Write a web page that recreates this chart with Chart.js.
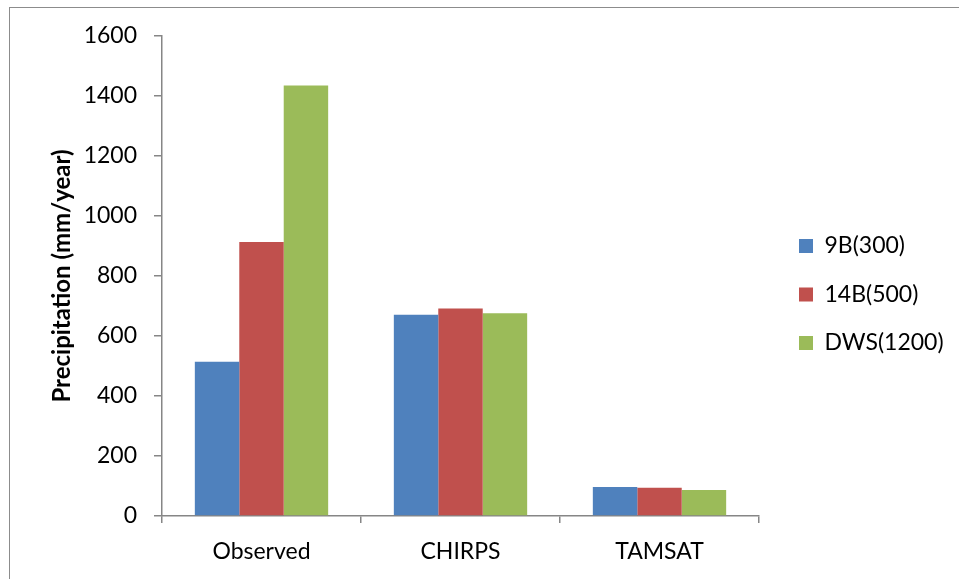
<!DOCTYPE html>
<html>
<head>
<meta charset="utf-8">
<title>Precipitation</title>
<script src="https://cdn.jsdelivr.net/npm/chart.js@4.4.0/dist/chart.umd.min.js"></script>
<style>
  body { margin: 0; background: #fff; }
  #wrap { position: relative; width: 959px; height: 579px; overflow: hidden; }
  #frame { position: absolute; left: 9px; top: 7px; width: 980px; height: 620px; border: 1px solid #8c8c8c; }
  canvas { position: absolute; left: 0; top: 0; }
</style>
</head>
<body>
<div id="wrap">
  <div id="frame"></div>
  <canvas id="precipChart" width="959" height="579"></canvas>
</div>
<script>
// station data, annual precipitation (mm/year)
const categories = ["Observed", "CHIRPS", "TAMSAT"];
const stationNames = ["9B(300)", "14B(500)", "DWS(1200)"];
const station9B = [514, 671, 97];
const station14B = [913, 692, 94];
const stationDWS = [1435, 676, 87];
const yTicks = [0, 200, 400, 600, 800, 1000, 1200, 1400, 1600];

const colors = ["#4F81BD", "#C0504D", "#9BBB59"];
const axisColor = "#868686";
const fontFamily = "Lato, 'Open Sans', sans-serif";

// empty axis used only to reserve some space
function spacer(position, size) {
    return {
        type: "linear",
        position: position,
        display: true,
        ticks: { display: false },
        grid: { display: false },
        border: { display: false },
        afterFit: (scale) => {
            if (scale.isHorizontal()) scale.height = size;
            else scale.width = size;
        }
    };
}

function drawChart() {
    const ctx = document.getElementById("precipChart").getContext("2d");

    new Chart(ctx, {
        type: "bar",
        data: {
            labels: categories,
            datasets: [
                { label: stationNames[0], data: station9B, backgroundColor: colors[0] },
                { label: stationNames[1], data: station14B, backgroundColor: colors[1] },
                { label: stationNames[2], data: stationDWS, backgroundColor: colors[2] }
            ]
        },
        options: {
            responsive: false,
            animation: false,
            layout: { padding: { left: 0, top: 24.6, right: 10.5, bottom: 14.6 } },
            datasets: {
                bar: { categoryPercentage: 0.67, barPercentage: 1.0, borderWidth: 0 }
            },
            plugins: {
                tooltip: { enabled: false },
                legend: {
                    position: "right",
                    maxWidth: 175,
                    labels: {
                        boxWidth: 14,
                        boxHeight: 14,
                        padding: 25.5,
                        color: "#000",
                        font: { family: fontFamily, size: 23 }
                    }
                }
            },
            scales: {
                x: {
                    grid: { offset: true, drawOnChartArea: false, drawTicks: true, tickLength: 7, color: axisColor, lineWidth: 1.5 },
                    border: { color: axisColor, width: 1.5 },
                    ticks: { color: "#000", padding: 15, font: { family: fontFamily, size: 23, lineHeight: 1.2 } },
                    afterFit: (scale) => { scale.height = 48.4; }
                },
                y: {
                    min: 0,
                    max: 1600,
                    afterBuildTicks: (scale) => { scale.ticks = yTicks.map(v => ({ value: v })); },
                    grid: { drawOnChartArea: false, drawTicks: true, tickLength: 8, color: axisColor, lineWidth: 1.5 },
                    border: { color: axisColor, width: 1.5 },
                    ticks: {
                        color: "#000",
                        padding: 17,
                        font: { family: fontFamily, size: 23 },
                        callback: (value) => String(value)
                    },
                    title: {
                        display: true,
                        text: "Precipitation (mm/year)",
                        color: "#000",
                        padding: { top: 47.6, bottom: 0 },
                        font: { family: fontFamily, size: 24, weight: "bold" }
                    },
                    afterFit: (scale) => { scale.width = 162; }
                },
                topGap: spacer("top", 11.4),
                legendGap: spacer("right", 14.5)
            }
        }
    });
}

Promise.all([
    document.fonts.load("23px Lato"),
    document.fonts.load("bold 24px Lato")
]).then(drawChart, drawChart);
</script>
</body>
</html>
